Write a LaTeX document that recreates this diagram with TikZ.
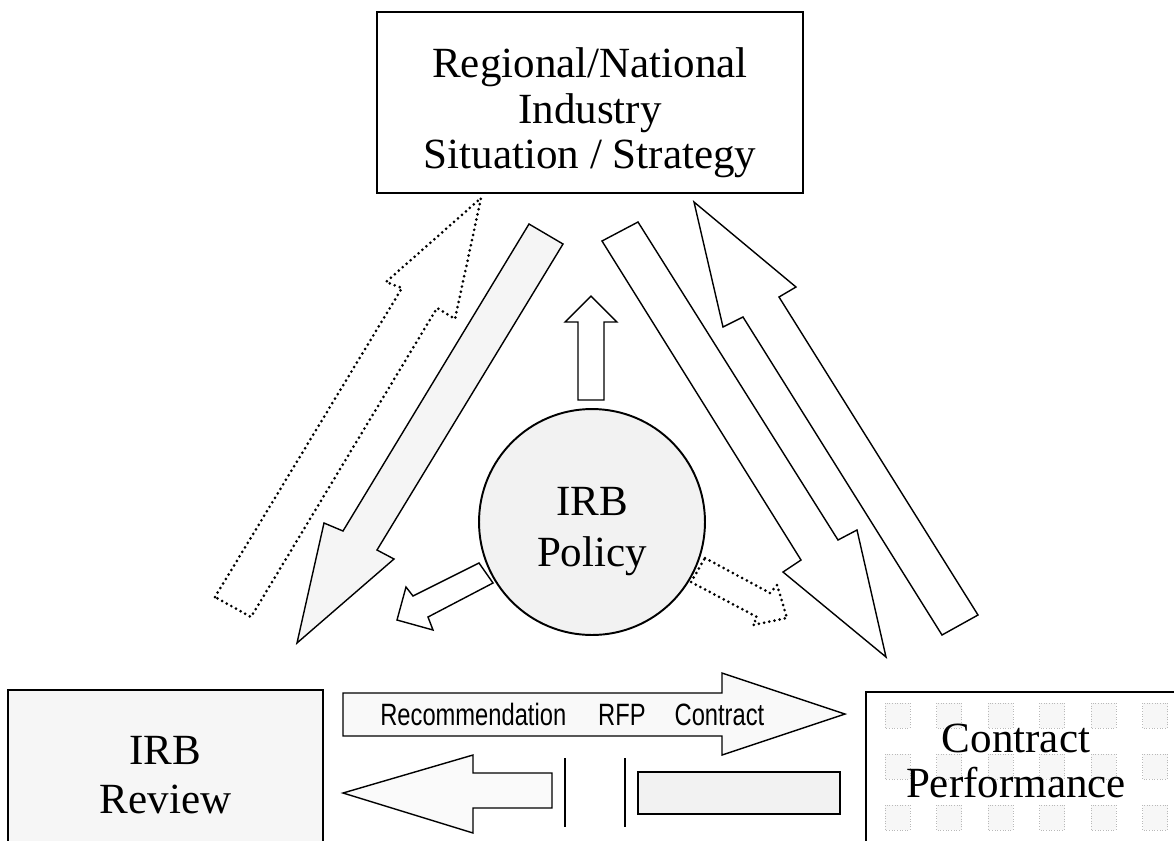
\documentclass[tikz,border=0pt]{standalone}
\usepackage{fontspec}
\setmainfont{Liberation Serif}
\setsansfont{Liberation Sans}
\usepackage{tikz}
\tikzset{
  frame/.style={draw, line width=1.1pt, inner sep=0pt},
  bigtext/.style={align=center, inner sep=0pt, font=\fontsize{24.5}{26}\selectfont},
  flowtext/.style={anchor=base west, inner sep=0pt, font=\sffamily\fontsize{13.5}{16}\selectfont},
  blockarr/.style={draw, line width=0.8pt, line join=miter, fill=white},
  dotarr/.style={draw, line width=1.7pt, line cap=round, dash pattern=on 0pt off 3pt},
  tile/.style={draw=gray!55, densely dotted, line width=0.5pt, fill=gray!6}
}

\begin{document}
\begin{tikzpicture}[x=0.02cm, y=-0.02cm]
  \useasboundingbox (0,0) rectangle (1174,840);
  \clip (0,0) rectangle (1174,840);

  % the three boxes and the policy circle
  \node[frame, minimum width=8.52cm, minimum height=3.62cm] (situ) at (590,102.5) {};
  \node[bigtext] (situtext) at (590,113) {Regional/National\\Industry\\Situation / Strategy};

  \node[frame, bigtext, fill=gray!7, minimum width=6.3cm, minimum height=3.4cm] (review) at (165.5,775) {IRB\\[2pt]Review};

  \foreach \i in {0,...,5}
    \foreach \j in {0,1,2}
      \draw[tile] ({885+51.5*\i},{703+51*\j}) rectangle +(25,25);
  \node[frame, minimum width=6.38cm, minimum height=3.36cm] (perf) at (1025.5,776) {};
  \node[bigtext] (perftext) at (1016,761) {Contract\\Performance};

  \node[frame, circle, fill=gray!10, minimum size=4.52cm] (pol) at (592,522) {};
  \node[bigtext] (poltext) at (592,532) {IRB\\[3pt]Policy};

  % left side
  \draw[dotarr] (215,597) -- (402,288) -- (386,282) -- (481,198) -- (455,319) -- (437,308) -- (251,617) -- cycle;
  \draw[blockarr, fill=gray!8] (529,224) -- (343,531) -- (324,523) -- (297,643) -- (394,559) -- (377,550) -- (563,244) -- cycle;
  \draw[blockarr] (479,563) -- (413,596) -- (406,587) -- (397,620) -- (433,630) -- (428,617) -- (493,583) -- cycle;

  % up from the policy
  \draw[blockarr] (578,400) -- (578,322) -- (565,322) -- (591,296) -- (617,322) -- (604,322) -- (604,400) -- cycle;

  % right side
  \draw[blockarr] (602,241) -- (801,560) -- (783,572) -- (886,657) -- (857,530) -- (838,540) -- (638,222) -- cycle;
  \draw[blockarr] (694,202) -- (796,287) -- (779,297) -- (978,615) -- (942,635) -- (743,317) -- (723,327) -- cycle;
  \draw[dotarr] (705,558) -- (770,593) -- (777,585) -- (787,618) -- (753,625) -- (757,617) -- (691,582) -- cycle;

  % bottom flow
  \draw[blockarr, fill=gray!5] (343,693) -- (722,693) -- (722,673) -- (845,714) -- (722,755) -- (722,736) -- (343,736) -- cycle;
  \node[flowtext] (flow) at (380,725) {\scalebox{1}[1.3]{Recommendation\hspace{0.64cm}RFP\hspace{0.58cm}Contract}};
  \draw[blockarr, fill=gray!4] (552,773) -- (473,773) -- (473,755) -- (343,793) -- (473,833) -- (473,808) -- (552,808) -- cycle;
  \draw[line width=0.8pt] (565,758) -- (565,827);
  \draw[line width=0.8pt] (625,758) -- (625,827);
  \draw[blockarr, fill=gray!10] (638,772) rectangle (840,814);
\end{tikzpicture}
\end{document}
